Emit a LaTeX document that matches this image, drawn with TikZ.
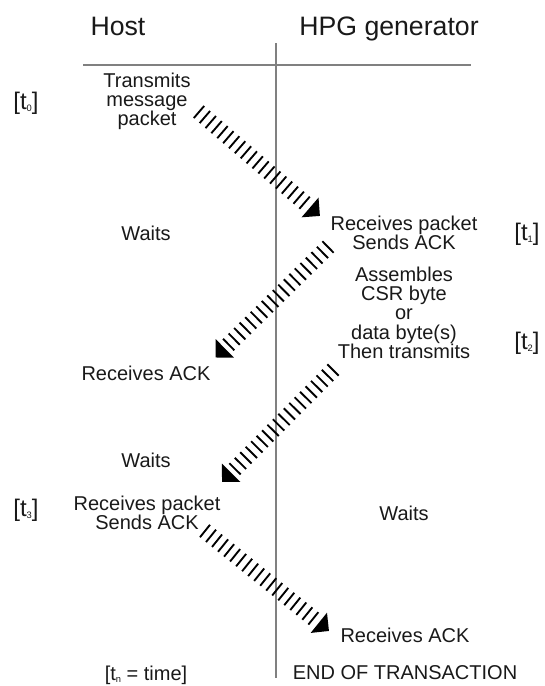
\documentclass[tikz,border=0pt]{standalone}
\usepackage{fontspec}
\setmainfont{Liberation Sans}
\usetikzlibrary{decorations.markings}
\newcommand{\tsub}[1]{\raisebox{-1.5pt}{\fontsize{7}{7}\selectfont #1}}
\begin{document}
\begin{tikzpicture}[x=0.75pt, y=-0.75pt, every node/.style={font=\fontsize{15}{14.4}\selectfont, inner sep=0pt, text=black!90},
  head/.style={font=\fontsize{20}{24}\selectfont, anchor=base},
  txt/.style={anchor=base},
  blk/.style={anchor=north, align=center},
  tlbl/.style={font=\fontsize{18}{20}\selectfont},
  hatch/.style={decoration={markings,
    mark=between positions 0 and -12pt step 5.8pt with {\draw[line width=1.4pt] (0pt,-6pt) -- (0pt,6pt);},
    mark=at position 1 with {\fill (0pt,0pt) -- (-9.75pt,9.75pt) -- (-9.75pt,-9.75pt) -- cycle;}}, decorate}]
\useasboundingbox (0,0) rectangle (544,686);
\node[head] (host) at (118,35) {Host};
\node[head] (hpg) at (389,35) {HPG generator};
\draw[gray, line width=0.8pt] (83,65) -- (471,65);
\draw[gray, line width=0.8pt] (276,43) -- (276,678);
\node[tlbl] (t0) at (26,103) {[t\tsub{0}]};
\node[tlbl] (t1) at (527,234) {[t\tsub{1}]};
\node[tlbl] (t2) at (527,343) {[t\tsub{2}]};
\node[tlbl] (t3) at (26,510) {[t\tsub{3}]};
\node[blk] (txpkt) at (147,72.7) {Transmits\\message\\packet};
\node[txt] (wait1) at (146,240) {Waits};
\node[blk] (rxpkt1) at (404,215.7) {Receives packet\\Sends ACK};
\node[blk] (asm) at (404,266.7) {Assembles\\CSR byte\\or\\data byte(s)\\Then transmits};
\node[txt] (rxack1) at (146,380) {Receives ACK};
\node[txt] (wait2) at (146,467) {Waits};
\node[blk] (rxpkt2) at (147,495.7) {Receives packet\\Sends ACK};
\node[txt] (wait3) at (404,520) {Waits};
\node[txt] (rxack2) at (405,642) {Receives ACK};
\node[txt] (tn) at (146,680) {[t\tsub{n} = time]};
\node[txt] (endtx) at (405,679) {END OF TRANSACTION};
\coordinate (m1s) at (199,112);
\coordinate (m1e) at (320,216);
\coordinate (m2s) at (328,247);
\coordinate (m2e) at (215,358);
\coordinate (m3s) at (333,370);
\coordinate (m3e) at (222,482);
\coordinate (m4s) at (205,531);
\coordinate (m4e) at (329,631);
\foreach \a/\b in {m1s/m1e, m2s/m2e, m3s/m3e, m4s/m4e}
  \path[hatch] (\a) -- (\b);
\end{tikzpicture}
\end{document}
